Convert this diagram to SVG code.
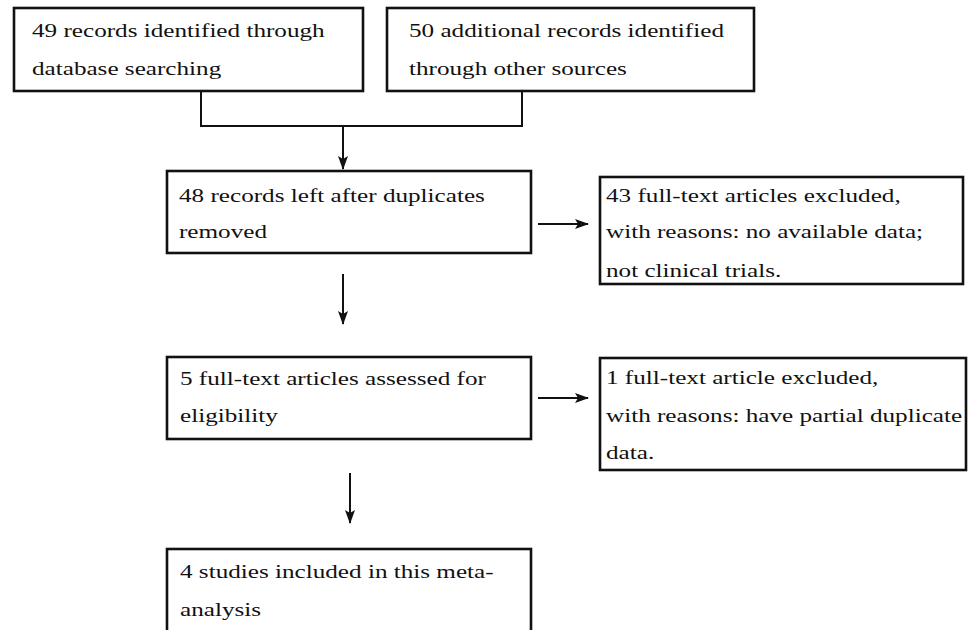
<svg xmlns="http://www.w3.org/2000/svg" width="974" height="630" viewBox="0 0 974 630">
<defs>
<style>
.box{fill:#fff;stroke:#111;stroke-width:2.6}
.ln{fill:none;stroke:#111;stroke-width:2}
.t{font-family:"Liberation Serif","Times New Roman",serif;font-size:19.5px;fill:#111}
</style>
<marker id="ah" markerUnits="userSpaceOnUse" markerWidth="14" markerHeight="12" viewBox="0 0 14 12" refX="13" refY="6" orient="auto">
<path d="M0,1 L14,6 L0,11 L3,6 Z" fill="#111"/>
</marker>
</defs>
<rect width="974" height="630" fill="#fff"/>
<g id="n1">
<rect class="box" x="14" y="8" width="349" height="83"/>
<text class="t" transform="translate(32,37) scale(1.29,1)">49 records identified through</text>
<text class="t" transform="translate(32,75) scale(1.29,1)">database searching</text>
</g>
<g id="n2">
<rect class="box" x="387" y="8" width="367" height="83"/>
<text class="t" transform="translate(409,37) scale(1.29,1)">50 additional records identified</text>
<text class="t" transform="translate(409,75) scale(1.29,1)">through other sources</text>
</g>
<g id="n3">
<rect class="box" x="167" y="171" width="364" height="82"/>
<text class="t" transform="translate(179,202) scale(1.29,1)">48 records left after duplicates</text>
<text class="t" transform="translate(179,238) scale(1.29,1)">removed</text>
</g>
<g id="n4">
<rect class="box" x="600" y="177" width="363" height="107"/>
<text class="t" transform="translate(606,202) scale(1.29,1)">43 full-text articles excluded,</text>
<text class="t" transform="translate(606,238) scale(1.29,1)">with reasons: no available data;</text>
<text class="t" transform="translate(606,277) scale(1.29,1)">not clinical trials.</text>
</g>
<g id="n5">
<rect class="box" x="167" y="357" width="364" height="82"/>
<text class="t" transform="translate(180,385) scale(1.29,1)">5 full-text articles assessed for</text>
<text class="t" transform="translate(180,422) scale(1.29,1)">eligibility</text>
</g>
<g id="n6">
<rect class="box" x="600" y="358" width="366" height="112"/>
<text class="t" transform="translate(606,384) scale(1.29,1)">1 full-text article excluded,</text>
<text class="t" transform="translate(606,422) scale(1.29,1)">with reasons: have partial duplicate</text>
<text class="t" transform="translate(606,459) scale(1.29,1)">data.</text>
</g>
<g id="n7">
<rect class="box" x="167" y="549" width="364" height="100"/>
<text class="t" transform="translate(180,578) scale(1.29,1)">4 studies included in this meta-</text>
<text class="t" transform="translate(180,616) scale(1.29,1)">analysis</text>
</g>
<g id="connectors">
<path class="ln" d="M201,91 V126 H522 V91"/>
<path class="ln" d="M343,126 V169" marker-end="url(#ah)"/>
<path class="ln" d="M538,224 H588" marker-end="url(#ah)"/>
<path class="ln" d="M343,274 V324" marker-end="url(#ah)"/>
<path class="ln" d="M538,398 H588" marker-end="url(#ah)"/>
<path class="ln" d="M350,473 V523" marker-end="url(#ah)"/>
</g>
</svg>
